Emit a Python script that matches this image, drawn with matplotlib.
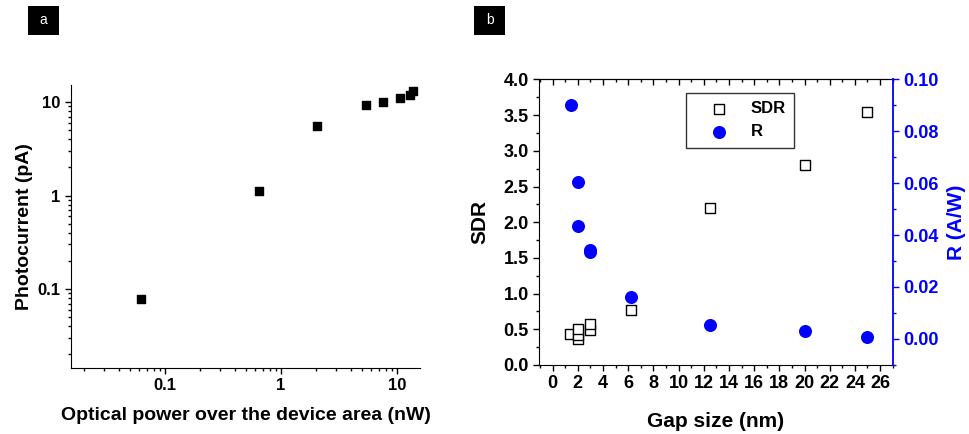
import matplotlib
matplotlib.use("Agg")
import matplotlib.pyplot as plt
from matplotlib.patches import Rectangle
from matplotlib.ticker import MultipleLocator, LogLocator, NullFormatter, FormatStrFormatter, FuncFormatter

plt.rcParams['font.family'] = ['Liberation Sans', 'DejaVu Sans']
plt.rcParams['font.weight'] = 'bold'

# panel a: photocurrent vs optical power
power_nw = [0.062, 0.645, 2.04, 5.37, 7.5, 10.5, 12.8, 13.6]
photocurrent_pa = [0.079, 1.13, 5.5, 9.4, 10.0, 11.1, 11.9, 13.0]

# panel b: SDR and responsivity vs gap size
sdr_gap = [1.4, 2.0, 2.0, 2.0, 3.0, 3.0, 6.2, 12.5, 20.0, 25.0]
sdr_val = [0.43, 0.37, 0.42, 0.50, 0.49, 0.58, 0.77, 2.20, 2.80, 3.55]
r_gap = [1.5, 2.0, 2.0, 3.0, 3.0, 6.2, 12.5, 20.0, 25.0]
r_val = [0.090, 0.0605, 0.0434, 0.0344, 0.0335, 0.0163, 0.0055, 0.0031, 0.0008]

blue = '#0000ff'

fig = plt.figure(figsize=(9.7, 4.34), dpi=100)

# ---- panel a ----
ax1 = fig.add_axes([0.0732, 0.152, 0.360, 0.652])
ax1.scatter(power_nw, photocurrent_pa, marker='s', s=28, color='black', zorder=3)
ax1.set_xscale('log')
ax1.set_yscale('log')
ax1.set_xlim(0.0155, 15.8)
ax1.set_ylim(0.0143, 15.2)
ax1.spines['top'].set_visible(False)
ax1.spines['right'].set_visible(False)
ax1.xaxis.set_major_locator(LogLocator(base=10))
ax1.yaxis.set_major_locator(LogLocator(base=10))
ax1.xaxis.set_minor_locator(LogLocator(base=10, subs=range(2, 10)))
ax1.yaxis.set_minor_locator(LogLocator(base=10, subs=range(2, 10)))
ax1.xaxis.set_minor_formatter(NullFormatter())
ax1.yaxis.set_minor_formatter(NullFormatter())
fmt = FuncFormatter(lambda v, p: ('%g' % v))
ax1.xaxis.set_major_formatter(fmt)
ax1.yaxis.set_major_formatter(fmt)
ax1.tick_params(which='major', length=4, width=1, labelsize=12)
ax1.tick_params(which='minor', length=2.5, width=1)
for lab in ax1.get_xticklabels() + ax1.get_yticklabels():
    lab.set_fontweight('bold')
ax1.set_xlabel('Optical power over the device area (nW)', fontsize=14, fontweight='bold', labelpad=10)
ax1.set_ylabel('Photocurrent (pA)', fontsize=14, fontweight='bold', labelpad=3)

# ---- panel b ----
ax2 = fig.add_axes([0.556, 0.159, 0.3643, 0.658])
ax2.scatter(sdr_gap, sdr_val, marker='s', s=50, facecolors='white', edgecolors='black',
            linewidths=1, zorder=3, label='SDR')
ax2.set_xlim(-1.05, 27)
ax2.set_ylim(0, 4.0)
ax2.xaxis.set_major_locator(MultipleLocator(2))
ax2.xaxis.set_minor_locator(MultipleLocator(1))
ax2.yaxis.set_major_locator(MultipleLocator(0.5))
ax2.yaxis.set_minor_locator(MultipleLocator(0.25))
ax2.yaxis.set_major_formatter(FormatStrFormatter('%.1f'))
ax2.tick_params(which='major', length=4, width=1, labelsize=13)
ax2.tick_params(which='minor', length=2.5, width=1)
ax2.spines['right'].set_visible(False)

ax3 = ax2.twinx()
ax3.scatter(r_gap, r_val, marker='o', s=70, color=blue, zorder=3, label='R')
ax3.set_ylim(-0.0101, 0.10)
ax3.yaxis.set_major_locator(MultipleLocator(0.02))
ax3.yaxis.set_minor_locator(MultipleLocator(0.01))
ax3.yaxis.set_major_formatter(FormatStrFormatter('%.2f'))
ax3.spines['right'].set_color(blue)
ax3.spines['right'].set_linewidth(1.3)
ax3.tick_params(axis='y', which='major', colors=blue, length=4, width=1, labelsize=13)
ax3.tick_params(axis='y', which='minor', colors=blue, length=2.5, width=1)
for spine in ['left', 'top', 'bottom']:
    ax3.spines[spine].set_visible(False)

# top ticks pointing inward
ax_top = ax2.secondary_xaxis('top')
ax_top.xaxis.set_major_locator(MultipleLocator(2))
ax_top.xaxis.set_minor_locator(MultipleLocator(1))
ax_top.tick_params(which='major', direction='in', length=4, width=1, labeltop=False)
ax_top.tick_params(which='minor', direction='in', length=2.5, width=1)

for lab in ax2.get_xticklabels() + ax2.get_yticklabels() + ax3.get_yticklabels():
    lab.set_fontweight('bold')

ax2.set_xlabel('Gap size (nm)', fontsize=15, fontweight='bold', labelpad=14)
ax2.set_ylabel('SDR', fontsize=15, fontweight='bold', labelpad=10)
ax3.set_ylabel('R (A/W)', fontsize=15, fontweight='bold', color=blue, labelpad=6)

h1, l1 = ax2.get_legend_handles_labels()
h2, l2 = ax3.get_legend_handles_labels()
leg = fig.legend(h1 + h2, l1 + l2, loc='upper left', bbox_to_anchor=(685.7 / 970, 1 - 92.7 / 434),
                 frameon=True, fancybox=False, edgecolor='black', prop={'size': 12, 'weight': 'bold'},
                 handletextpad=0.4, borderpad=0.5, labelspacing=0.5, borderaxespad=0,
                 handlelength=3.0)
leg.get_frame().set_linewidth(1)

# panel letters
for x, letter in [(28, 'a'), (474, 'b')]:
    fig.patches.append(Rectangle((x / 970, 1 - 35 / 434), 31 / 970, 29 / 434,
                                 transform=fig.transFigure, facecolor='black', edgecolor='none'))
    fig.text((x + 15.5) / 970, 1 - 20.5 / 434, letter, color='white', fontsize=10, fontweight='normal',
             ha='center', va='center')

fig.savefig('out.png', dpi=100)
